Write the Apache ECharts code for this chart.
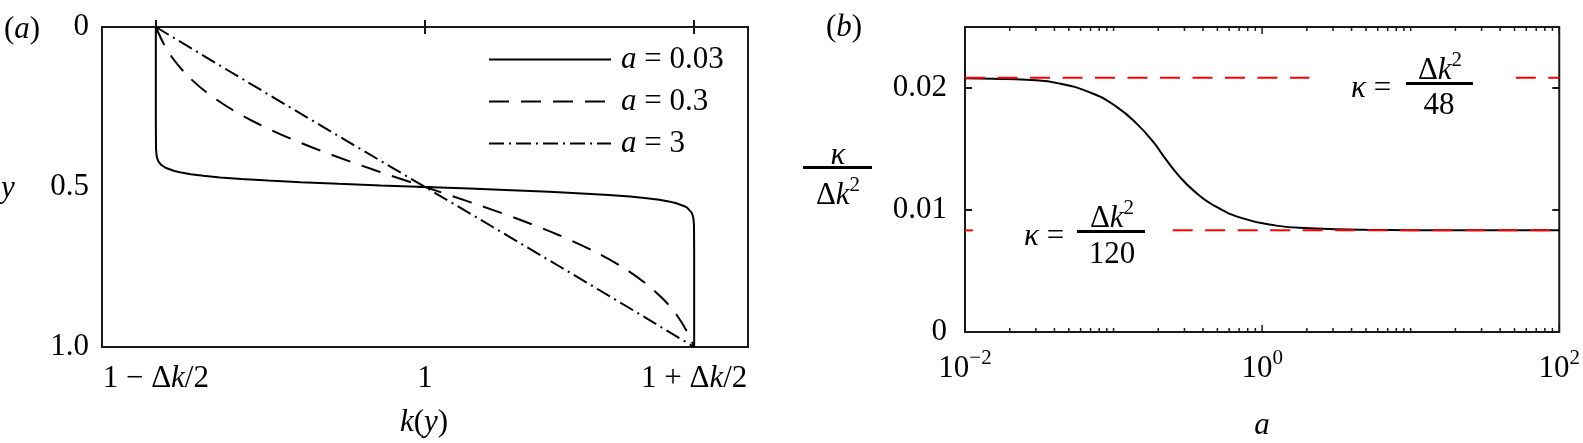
<!DOCTYPE html>
<html>
<head>
<meta charset="utf-8">
<script src="https://cdn.jsdelivr.net/npm/echarts@6/dist/echarts.min.js"></script>
<style>
html, body { margin: 0; padding: 0; background: #fff; }
#chart { width: 1583px; height: 443px; }
</style>
</head>
<body>
<div id="chart"></div>
<script>
// panel (a): k(y) profiles, k written as (k - 1) / dk, so -0.5 is 1 - dk/2
const yA003 = [0, 0.3, 0.38, 0.4, 0.41, 0.42, 0.43, 0.435, 0.44, 0.45, 0.455, 0.46, 0.465, 0.47, 0.475, 0.48, 0.485, 0.49, 0.495, 0.5,
  0.505, 0.51, 0.515, 0.52, 0.525, 0.53, 0.535, 0.54, 0.545, 0.55, 0.56, 0.565, 0.57, 0.58, 0.59, 0.6, 0.62, 0.7, 1];
const kA003 = [-0.5, -0.5, -0.49966, -0.49873, -0.49753, -0.49519, -0.49066, -0.48727, -0.48201, -0.46551, -0.45257, -0.4353, -0.41183, -0.3808, -0.34112, -0.29139, -0.23106, -0.16076, -0.08257, 0,
  0.08257, 0.16076, 0.23106, 0.29139, 0.34112, 0.3808, 0.41183, 0.4353, 0.45257, 0.46551, 0.48201, 0.48727, 0.49066, 0.49519, 0.49753, 0.49873, 0.49966, 0.5, 0.5];
const yA03 = [0, 0.05, 0.1, 0.15, 0.2, 0.25, 0.3, 0.35, 0.4, 0.45, 0.5, 0.55, 0.6, 0.65, 0.7, 0.75, 0.8, 0.85, 0.9, 0.95, 1];
const kA03 = [-0.5, -0.48611, -0.46756, -0.44234, -0.40901, -0.3664, -0.31298, -0.24818, -0.17267, -0.08869, 0,
  0.08869, 0.17267, 0.24818, 0.31298, 0.3664, 0.40901, 0.44234, 0.46756, 0.48611, 0.5];
const yA3 = [0, 0.125, 0.25, 0.375, 0.5, 0.625, 0.75, 0.875, 1];
const kA3 = [-0.5, -0.3765, -0.2517, -0.1261, 0, 0.1261, 0.2517, 0.3765, 0.5];
const namesA = ['a = 0.03', 'a = 0.3', 'a = 3'];
const kTicksA = [-0.5, 0, 0.5];

// panel (b): kappa / dk^2 against a
const aB = [0.01, 0.0155, 0.026, 0.0436, 0.073, 0.105, 0.143, 0.185, 0.227, 0.279, 0.343, 0.467, 0.743, 1.245, 2.08, 5, 20, 100];
const kappaB = [0.0208, 0.02076, 0.02067, 0.02036, 0.01953, 0.01845, 0.01708, 0.01558, 0.01408, 0.01272, 0.01163, 0.01041, 0.00931, 0.00872, 0.00851, 0.00838, 0.008336, 0.008334];
const kappaStep = 0.020833;   // dk^2 / 48
const kappaLinear = 0.008333; // dk^2 / 120
// where the dashed reference lines are broken for their labels
const stepSegments = [[0.01, 2.08], [51, 100]];
const linearSegments = [[0.01, 0.0113], [0.25, 100]];
const decadesB = [0.01, 0.1, 1, 10];
const multsB = [1, 2, 3, 4, 5, 6, 7, 8, 9];
const majorTicksB = [0.01, 1, 100];

const FONT = '"Liberation Serif", "Times New Roman", serif';
const FS = 31;
const ink = '#1a1a1a';

const zip = (xs, ys) => xs.map((x, i) => [x, ys[i]]);

const tickB = [];
decadesB.forEach(d => multsB.forEach(m => {
  const v = +(d * m).toPrecision(3);
  tickB.push([v, 0, majorTicksB.includes(v) ? 1 : 0]);
}));
tickB.push([100, 0, 1]);

const richBase = {
  n: { fontFamily: FONT, fontSize: FS, lineHeight: 36, verticalAlign: 'bottom', color: '#000' },
  i: { fontFamily: FONT, fontSize: FS, fontStyle: 'italic', lineHeight: 36, verticalAlign: 'bottom', color: '#000' },
  s: { fontFamily: FONT, fontSize: 21, lineHeight: 21, verticalAlign: 'top', color: '#000' }
};

const chart = echarts.init(document.getElementById('chart'));

function txt(x, y, text, align) {
  return {
    type: 'text', x: x, y: y, z: 100,
    style: { text: text, rich: richBase, fontFamily: FONT, fontSize: FS, fill: '#000',
      textAlign: align || 'center', textVerticalAlign: 'middle' }
  };
}
function bar(x1, x2, y, w) {
  return { type: 'line', z: 100, shape: { x1: x1, y1: y, x2: x2, y2: y }, style: { stroke: '#000', lineWidth: w || 3 } };
}

const redLine = (seg, v) => ({
  type: 'line', xAxisIndex: 2, yAxisIndex: 2, symbol: 'none', silent: true,
  data: [[seg[0], v], [seg[1], v]],
  lineStyle: { color: '#ff0000', width: 2, type: [20, 12.5] }
});

const option = {
  animation: false,
  backgroundColor: '#fff',
  textStyle: { fontFamily: FONT },
  grid: [
    { left: 102, top: 27, width: 646, height: 320, show: true, borderColor: ink, borderWidth: 2, backgroundColor: 'transparent' },
    { left: 965, top: 27, width: 595, height: 305, show: true, borderColor: ink, borderWidth: 2, backgroundColor: 'transparent' }
  ],
  legend: {
    data: namesA, orient: 'vertical', left: 483, top: 39,
    itemWidth: 122, itemHeight: 30, itemGap: 11, selectedMode: false,
    itemStyle: { opacity: 0, borderWidth: 0 },
    formatter: name => name.replace('a', '{i|a}'),
    textStyle: { fontFamily: FONT, fontSize: FS, color: '#000', lineHeight: 30, padding: [0, 0, 0, 5],
      rich: { i: { fontFamily: FONT, fontSize: FS, fontStyle: 'italic', color: '#000' } } }
  },
  xAxis: [
    { gridIndex: 0, type: 'value', min: -0.6, max: 0.6, position: 'bottom',
      axisLine: { show: false }, splitLine: { show: false },
      axisTick: { inside: true, length: 7, customValues: kTicksA, lineStyle: { color: ink, width: 2 } },
      axisLabel: { customValues: kTicksA, margin: 11, color: '#000', rich: richBase,
        formatter: v => Math.abs(v) < 1e-9 ? '{n|1}' : (v < 0 ? '{n|1 − Δ}{i|k}{n|/2}' : '{n|1 + Δ}{i|k}{n|/2}') } },
    { gridIndex: 0, type: 'value', min: -0.6, max: 0.6, position: 'top',
      axisLine: { show: false }, splitLine: { show: false }, axisLabel: { show: false },
      axisTick: { inside: true, length: 7, customValues: kTicksA, lineStyle: { color: ink, width: 2 } } },
    { gridIndex: 1, type: 'log', logBase: 10, min: 0.01, max: 100, position: 'bottom',
      axisLine: { show: false }, splitLine: { show: false }, axisTick: { show: false },
      axisLabel: { margin: 16, color: '#000', rich: richBase, showMinLabel: true, showMaxLabel: true,
        formatter: v => {
          const e = Math.round(Math.log10(v));
          if (e % 2 !== 0) return '';
          return '{n|10}{s|' + (e < 0 ? '−' : '') + Math.abs(e) + '}';
        } } }
  ],
  yAxis: [
    { gridIndex: 0, type: 'value', inverse: true, min: 0, max: 1, interval: 0.5, position: 'left',
      axisLine: { show: false }, splitLine: { show: false },
      axisTick: { inside: true, length: 7, lineStyle: { color: ink, width: 2 } },
      axisLabel: { margin: 13, color: '#000', fontFamily: FONT, fontSize: FS,
        formatter: v => v === 1 ? '1.0' : String(v) } },
    { gridIndex: 0, type: 'value', inverse: true, min: 0, max: 1, interval: 0.5, position: 'right',
      axisLine: { show: false }, splitLine: { show: false }, axisLabel: { show: false },
      axisTick: { inside: true, length: 7, lineStyle: { color: ink, width: 2 } } },
    { gridIndex: 1, type: 'value', min: 0, max: 0.025, interval: 0.01, position: 'left',
      axisLine: { show: false }, splitLine: { show: false },
      axisTick: { inside: true, length: 7, lineStyle: { color: ink, width: 2 } },
      axisLabel: { margin: 18, color: '#000', fontFamily: FONT, fontSize: FS, showMaxLabel: false,
        formatter: v => v === 0 ? '0' : v.toFixed(2) } },
    { gridIndex: 1, type: 'value', min: 0, max: 0.025, interval: 0.01, position: 'right',
      axisLine: { show: false }, splitLine: { show: false }, axisLabel: { show: false },
      axisTick: { inside: true, length: 7, lineStyle: { color: ink, width: 2 } } }
  ],
  series: [
    { name: namesA[0], type: 'line', xAxisIndex: 0, yAxisIndex: 0, symbol: 'none',
      data: zip(kA003, yA003), lineStyle: { color: '#000', width: 2 }, itemStyle: { color: '#000' } },
    { name: namesA[1], type: 'line', xAxisIndex: 0, yAxisIndex: 0, symbol: 'none', smooth: 0.3,
      data: zip(kA03, yA03), lineStyle: { color: '#000', width: 2, type: [20, 12] }, itemStyle: { color: '#000' } },
    { name: namesA[2], type: 'line', xAxisIndex: 0, yAxisIndex: 0, symbol: 'none',
      data: zip(kA3, yA3), lineStyle: { color: '#000', width: 2, type: [15, 5, 2, 5] }, itemStyle: { color: '#000' } },
    { type: 'custom', xAxisIndex: 2, yAxisIndex: 2, data: tickB, silent: true, clip: false,
      encode: { x: 0, y: 1 },
      renderItem: function (params, api) {
        const a = api.value(0);
        const len = api.value(2) ? 7 : 4;
        const b = api.coord([a, 0]);
        const t = api.coord([a, 0.025]);
        return { type: 'group', children: [
          { type: 'line', shape: { x1: b[0], y1: b[1], x2: b[0], y2: b[1] - len }, style: { stroke: ink, lineWidth: 1.5 } },
          { type: 'line', shape: { x1: t[0], y1: t[1], x2: t[0], y2: t[1] + len }, style: { stroke: ink, lineWidth: 1.5 } }
        ] };
      } },
    { type: 'line', xAxisIndex: 2, yAxisIndex: 2, symbol: 'none', smooth: true, silent: true,
      data: zip(aB, kappaB), lineStyle: { color: '#000', width: 2 } },
    redLine(stepSegments[0], kappaStep),
    redLine(stepSegments[1], kappaStep),
    redLine(linearSegments[0], kappaLinear),
    redLine(linearSegments[1], kappaLinear)
  ],
  graphic: [
    txt(22, 27, '{n|(}{i|a}{n|)}'),
    txt(844, 25, '{n|(}{i|b}{n|)}'),
    txt(8, 186, '{i|y}'),
    txt(424, 420, '{i|k}{n|(}{i|y}{n|)}'),
    txt(1262, 423, '{i|a}'),
    // y label of (b)
    txt(838, 153, '{i|κ}'),
    bar(803, 872, 167.5, 3),
    txt(838, 193, '{n|Δ}{i|k}{s|2}'),
    // kappa = dk^2/48
    txt(1351, 86, '{i|κ}{n| =}', 'left'),
    bar(1406, 1473, 83.5, 3),
    txt(1440, 68, '{n|Δ}{i|k}{s|2}'),
    txt(1439, 103, '{n|48}'),
    // kappa = dk^2/120
    txt(1024, 234, '{i|κ}{n| =}', 'left'),
    bar(1077, 1145, 231.5, 3),
    txt(1112, 216, '{n|Δ}{i|k}{s|2}'),
    txt(1112, 252, '{n|120}')
  ]
};

chart.setOption(option);
</script>
</body>
</html>
